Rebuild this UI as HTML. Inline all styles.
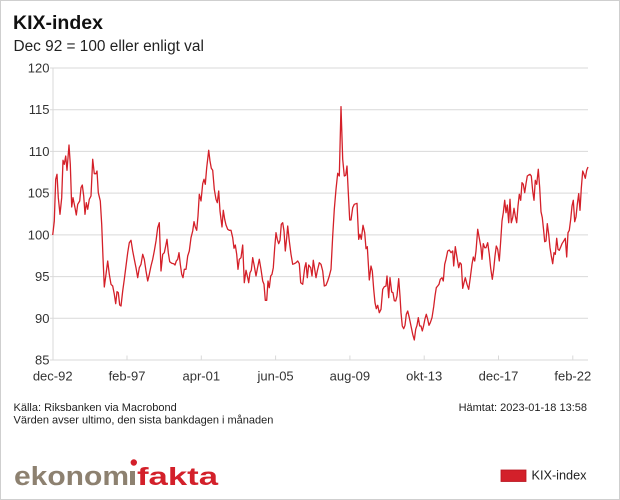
<!DOCTYPE html>
<html><head><meta charset="utf-8"><style>
html,body{margin:0;padding:0;background:#fff;}
#c{position:relative;width:620px;height:500px;box-sizing:border-box;border:1px solid #cfcfcf;overflow:hidden;}
svg{position:absolute;left:0;top:0;}
text{font-family:"Liberation Sans",Arial,sans-serif;}
</style></head><body><div id="c">
<svg width="620" height="500" viewBox="0 0 620 500" xmlns="http://www.w3.org/2000/svg">
<text x="12" y="28" font-size="19.5" font-weight="bold" fill="#111">KIX-index</text>
<text x="12.5" y="50" font-size="15.4" fill="#222">Dec 92 = 100 eller enligt val</text>
<g stroke="#d9d9d9" stroke-width="1">
<line x1="49" y1="67" x2="587" y2="67"/>
<line x1="49" y1="108.7" x2="587" y2="108.7"/>
<line x1="49" y1="150.4" x2="587" y2="150.4"/>
<line x1="49" y1="192.1" x2="587" y2="192.1"/>
<line x1="49" y1="233.9" x2="587" y2="233.9"/>
<line x1="49" y1="275.6" x2="587" y2="275.6"/>
<line x1="49" y1="317.3" x2="587" y2="317.3"/>
<line x1="49" y1="359" x2="587" y2="359"/>
<line x1="52" y1="67" x2="52" y2="359"/>
<line x1="126" y1="354.5" x2="126" y2="359"/>
<line x1="200.3" y1="354.5" x2="200.3" y2="359"/>
<line x1="274.6" y1="354.5" x2="274.6" y2="359"/>
<line x1="348.9" y1="354.5" x2="348.9" y2="359"/>
<line x1="423.2" y1="354.5" x2="423.2" y2="359"/>
<line x1="497.5" y1="354.5" x2="497.5" y2="359"/>
<line x1="571.8" y1="354.5" x2="571.8" y2="359"/>
</g>
<g font-size="13" fill="#333" text-anchor="end">
<text x="48.5" y="71.5">120</text>
<text x="48.5" y="113.2">115</text>
<text x="48.5" y="154.9">110</text>
<text x="48.5" y="196.6">105</text>
<text x="48.5" y="238.4">100</text>
<text x="48.5" y="280.1">95</text>
<text x="48.5" y="321.8">90</text>
<text x="48.5" y="363.5">85</text>
</g>
<g font-size="13" fill="#333" text-anchor="middle">
<text x="51.7" y="379.5">dec-92</text>
<text x="126" y="379.5">feb-97</text>
<text x="200.3" y="379.5">apr-01</text>
<text x="274.6" y="379.5">jun-05</text>
<text x="348.9" y="379.5">aug-09</text>
<text x="423.2" y="379.5">okt-13</text>
<text x="497.5" y="379.5">dec-17</text>
<text x="571.8" y="379.5">feb-22</text>
</g>
<polyline fill="none" stroke="#d42029" stroke-width="1.3" stroke-linejoin="round" points="51.7,234 53.3,220 54.7,178.3 56,173.3 57.3,196.7 59,213.3 60.7,196.7 62,159.3 63.3,163.3 64.7,155 66,169.3 68,144 69.3,163.3 70.7,206 72,196.7 74,206.7 75.3,214 76.7,203.3 78.7,200 80,186.7 81.3,184 82.7,195 84,213.3 85.3,201.7 86.7,208.3 88.3,198.3 90,195 91.7,158.3 93.3,172.7 95,172.7 96,170 97.3,191.7 99.3,200 100.7,223.3 102,256.7 103.3,286 105,273.3 106.7,260 108.3,273.3 110,283.3 111.7,285 113.3,293.3 114.7,302.7 116,290.7 117.3,291.7 118.7,304 120,305 121.7,290 123.3,278.3 125,265 126.7,251.7 128.3,241.7 130,239.3 131.7,250 133.3,258.3 135,266.7 136.7,276.7 138.3,266.7 140,263.3 141.7,253.3 143.3,258.3 145,270 146.7,280 148.3,273.3 150,265 151.7,258.3 153.3,250 155,240 156.7,226.7 158.3,221.7 160,270 161.7,253.3 163.3,251.7 164.7,245 166,238.3 167.3,251.7 168.7,260.7 170.7,262.3 172.7,262.7 174,264 175.3,260 176.7,258.3 178,251.7 179.3,263.3 180.7,273.3 182,276.7 183.3,268.3 185,268.3 186.7,255 188.3,250 190,236.7 191.7,230 193,220.7 194.3,226 195.7,229.3 197,215 198.3,193.3 200,200 201.7,182.7 203,178.3 204.3,183.3 205.7,166.7 207.7,149.3 209,160 210.3,167.3 211.7,169.3 213.3,188.3 215,198.3 216.3,201.7 217.7,190 219,210 221,226 222.3,209.3 223.7,218.3 225,224 226.7,228.3 228.3,229.3 230,229.3 231.7,236.7 233,247.3 234.3,244 235.7,253.3 237,268.3 238.3,258.3 240,256.7 241.7,244 243.3,281.7 245,269.3 246.7,276.7 247.7,281.7 249,271.7 250.3,269.3 251.7,256.7 253.3,265 255,275 256.7,266 258.3,258.3 260,268.3 261.7,280 263,283.3 264.3,299.3 265.7,299.3 267,280 268.3,286.7 269.7,275 271,273.3 272.3,266.7 273.7,246.7 275,231.7 276.3,238.3 277.7,242.7 279,239.3 280.3,223.3 281.7,221.7 283,230 284.3,250 285.7,236.7 286.7,225 288.3,240 290,253.3 291.7,263.3 293.3,262.7 295,261.7 296.7,260 298.3,262.7 299.7,281.7 301.7,283.3 303.7,266.7 305,261.7 306.3,276.7 307.7,264 309.7,266.7 311,275 312.3,259.3 313.7,268.3 315,276.7 316.3,270 318.3,261.7 320,263.3 321.7,270 323.3,285 325,284.3 326.7,280 328.3,275 330,268.3 331.7,235 333.3,208.3 335,188.3 336.7,172.3 338.3,175 340,105.7 341.7,158.3 343.3,175 344.7,174.3 346,165 347.3,191.7 348.7,219 350,219 351.7,206.7 353.3,203.3 356,202.3 357.7,238.3 359,233.3 360.3,238.3 362,224.3 363.7,231.7 365,247.7 366.3,245.7 368.3,279 370,265 371.3,270 372.7,288.3 374,301.7 375.3,307.7 376.7,304.3 378.3,311.7 380,308.3 381.7,288.3 383.3,285.7 385,285 386,275 387.7,296.7 389,276.7 390.7,291 392,291.7 393.3,299.7 394.7,300 396,295 397.7,277.7 399,295 400,311.7 401.3,325 402.7,327.7 404,324.3 405.3,313.3 406.7,310 408.3,316.7 410,325 411.7,333.3 413.3,339 414.7,328.3 416,324.3 417.3,316.7 418.7,325 420,325 421.3,330 422.7,324.3 424,317.7 425.3,313.3 426.7,318.3 428,324.3 429.3,321.7 431,316.7 432.7,305.7 434,295 435.3,286.7 436.7,285 438,283.3 439.3,278.3 441,276.7 442.3,280 443.7,263.3 445,258.3 446.7,250 448.3,249 450,251.7 451.7,250 452.7,265 454.3,245.7 456.3,258.3 457.7,266.7 459,261.7 460.3,263.3 461.7,287.3 463,281.7 464.3,276.7 466,283.3 467.7,288.3 469.3,276.7 471,263.3 472.3,256 473.7,260 475,250 476.7,228.3 478.3,237.3 480,246.7 481,258.3 482.3,242.7 483.7,246.7 485,246.7 486.7,241.7 488.3,253.3 489.7,267.3 491.3,278.3 492.7,268.3 494,255 495.3,245 496.7,248.3 498.3,260 499.7,240 501,220 502.3,211.7 503.7,199.3 505,211.7 506.3,204 507.7,221.7 509,198.3 510.3,221.7 511.7,216.7 513,207.3 514.3,215 515.7,221.7 517,205 518.3,193.3 519.7,199.3 521,181.7 522.3,183.3 523.7,191.7 525,182.7 526.3,175 527.7,174 529,173.3 530.3,175 531.7,190 533,199.3 534.3,179.3 535.7,183.3 537.3,168.3 538.7,186.7 540,210.7 541.3,216.7 542.7,230 543.7,240.7 545,240 546.3,222.7 547.7,233.3 549,246.7 550.3,255 551.7,262.7 553,251.7 554.3,253.3 555.7,237.3 557,248.3 558.3,249.3 559.7,246 561,242.7 562.3,240.7 564.3,237.3 565.7,256 567,231.7 568.3,229.3 569.7,218.3 571,205 572.3,199.3 573.7,220.7 575,216 576.3,203.3 577.7,192.7 579,209.3 580.3,187.3 581.7,170 583,173.3 584.3,177.3 585.7,169.3 587,166"/>
<g font-size="11" fill="#222">
<text x="12.5" y="410">Källa: Riksbanken via Macrobond</text>
<text x="12.5" y="422.5">Värden avser ultimo, den sista bankdagen i månaden</text>
<text x="586" y="410" text-anchor="end">Hämtat: 2023-01-18 13:58</text>
</g>
<text x="13" y="484" font-size="25.5" font-weight="bold" fill="#8d8170" textLength="115" lengthAdjust="spacingAndGlyphs">ekonom</text>
<rect x="129" y="470" width="5" height="14" fill="#8d8170"/>
<circle cx="132.8" cy="461.5" r="3.2" fill="#d3202a"/>
<text x="136" y="484" font-size="25" font-weight="bold" fill="#d3202a" textLength="81" lengthAdjust="spacingAndGlyphs">fakta</text>
<rect x="500" y="469" width="25" height="11.5" fill="#d3202a" stroke="#b8141e" stroke-width="0.8"/>
<text x="530.5" y="478.5" font-size="12.7" fill="#222">KIX-index</text>
</svg>
</div></body></html>
